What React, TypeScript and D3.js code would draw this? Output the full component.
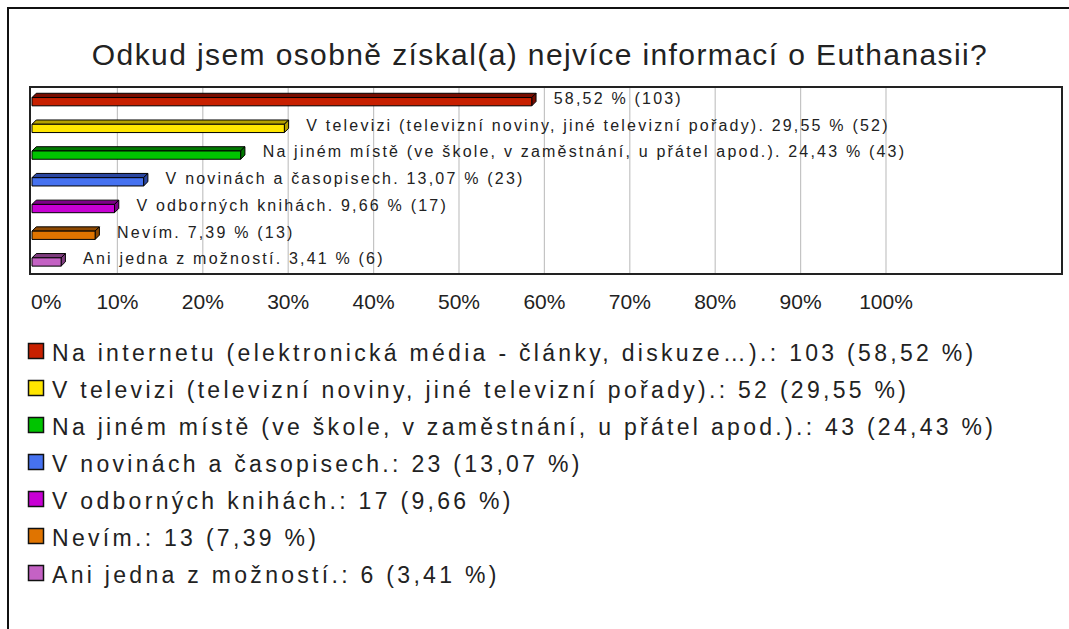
import React, { useEffect, useRef } from 'react';
import * as d3 from 'd3';

const title = 'Odkud jsem osobně získal(a) nejvíce informací o Euthanasii?';

const categories = [
  'Na internetu (elektronická média - články, diskuze…)',
  'V televizi (televizní noviny, jiné televizní pořady)',
  'Na jiném místě (ve škole, v zaměstnání, u přátel apod.)',
  'V novinách a časopisech',
  'V odborných knihách',
  'Nevím',
  'Ani jedna z možností',
];
const counts = [103, 52, 43, 23, 17, 13, 6];
const percents = [58.52, 29.55, 24.43, 13.07, 9.66, 7.39, 3.41];
const tickValues = [0, 10, 20, 30, 40, 50, 60, 70, 80, 90, 100];

const frontColors = ['#c82000', '#ffe600', '#00c400', '#4672f0', '#c800d4', '#e07400', '#c462c4'];
const topColors = ['#780c00', '#b4a000', '#007a00', '#2a46a0', '#7e0088', '#8e4800', '#7e3c7e'];

const fmtPct = (v: number) => d3.format('.2f')(v).replace('.', ',');

function App() {
  const svgRef = useRef<SVGSVGElement>(null);

  useEffect(() => {
    if (!svgRef.current) return;
    const width = 1069;
    const height = 629;
    const font = '"Liberation Sans", Arial, sans-serif';

    const svg = d3.select(svgRef.current);
    svg.selectAll('*').remove();
    svg.attr('width', width).attr('height', height).attr('viewBox', `0 0 ${width} ${height}`);

    svg.append('rect').attr('width', width).attr('height', height).attr('fill', '#fff');

    // outer frame (runs off the right and bottom)
    svg.append('rect')
      .attr('x', 8).attr('y', 8)
      .attr('width', width + 50).attr('height', height + 50)
      .attr('fill', 'none').attr('stroke', '#111').attr('stroke-width', 2);

    svg.append('text')
      .attr('x', 540).attr('y', 65)
      .attr('text-anchor', 'middle')
      .attr('font-family', font)
      .attr('font-size', 30)
      .attr('letter-spacing', 1.4)
      .attr('fill', '#222')
      .text(title);

    const box = { left: 30, right: 1062, top: 87, bottom: 274 };
    const x = d3.scaleLinear().domain([0, 100]).range([32, 886]);
    const y = d3.scaleBand<string>().domain(categories).range([box.top, box.bottom]);
    const bw = y.bandwidth();

    // gridlines
    svg.append('g')
      .selectAll('line')
      .data(tickValues.slice(1))
      .join('line')
      .attr('x1', (d) => x(d)).attr('x2', (d) => x(d))
      .attr('y1', box.top).attr('y2', box.bottom)
      .attr('stroke', '#c4c4c4').attr('stroke-width', 1.2);

    svg.append('rect')
      .attr('x', box.left).attr('y', box.top)
      .attr('width', box.right - box.left).attr('height', box.bottom - box.top)
      .attr('fill', 'none').attr('stroke', '#222').attr('stroke-width', 2);

    // 3d bars
    const depth = bw * 0.16;
    const total = bw * 0.47;
    const bars = svg.append('g');
    categories.forEach((c, i) => {
      const cy = (y(c) as number) + bw / 2 - 0.8;
      const ft = cy - total / 2 + depth;
      const fb = cy + total / 2;
      const x0 = x(0);
      const x1 = x(percents[i]);
      const g = bars.append('g').attr('stroke', '#000').attr('stroke-width', 1).attr('stroke-linejoin', 'round');
      g.append('path')
        .attr('d', `M${x0},${ft}L${x0 + depth},${ft - depth}L${x1 + depth},${ft - depth}L${x1},${ft}Z`)
        .attr('fill', topColors[i]);
      g.append('path')
        .attr('d', `M${x1},${ft}L${x1 + depth},${ft - depth}L${x1 + depth},${fb - depth}L${x1},${fb}Z`)
        .attr('fill', topColors[i]);
      g.append('rect')
        .attr('x', x0).attr('y', ft)
        .attr('width', x1 - x0).attr('height', fb - ft)
        .attr('fill', frontColors[i]);

      const label = i === 0
        ? `${fmtPct(percents[i])} % (${counts[i]})`
        : `${c}. ${fmtPct(percents[i])} % (${counts[i]})`;
      svg.append('text')
        .attr('x', x1 + 22).attr('y', cy - 1)
        .attr('dominant-baseline', 'central')
        .attr('font-family', font)
        .attr('font-size', 16)
        .attr('letter-spacing', 2.2)
        .attr('fill', '#222')
        .text(label);
    });

    // x tick labels
    svg.append('g')
      .selectAll('text')
      .data(tickValues)
      .join('text')
      .attr('x', (d) => (d === 0 ? x(d) - 1 : x(d)))
      .attr('y', 309)
      .attr('text-anchor', (d) => (d === 0 ? 'start' : 'middle'))
      .attr('font-family', font)
      .attr('font-size', 21)
      .attr('fill', '#222')
      .text((d) => `${d}%`);

    // legend
    const legendY = d3.scalePoint<string>().domain(categories).range([351, 573]);
    const legend = svg.append('g');
    categories.forEach((c, i) => {
      const ly = legendY(c) as number;
      legend.append('rect')
        .attr('x', 28.5).attr('y', ly - 7.5)
        .attr('width', 15).attr('height', 15)
        .attr('fill', frontColors[i])
        .attr('stroke', '#111').attr('stroke-width', 1.5);
      legend.append('text')
        .attr('x', 52).attr('y', ly + 10)
        .attr('font-family', font)
        .attr('font-size', 23)
        .attr('letter-spacing', 3.3)
        .attr('fill', '#222')
        .text(`${c}.: ${counts[i]} (${fmtPct(percents[i])} %)`);
    });
  }, []);

  return (
    <div style={{ position: 'absolute', left: 0, top: 0 }}>
      <svg ref={svgRef} style={{ display: 'block' }}></svg>
    </div>
  );
}

export default App;
